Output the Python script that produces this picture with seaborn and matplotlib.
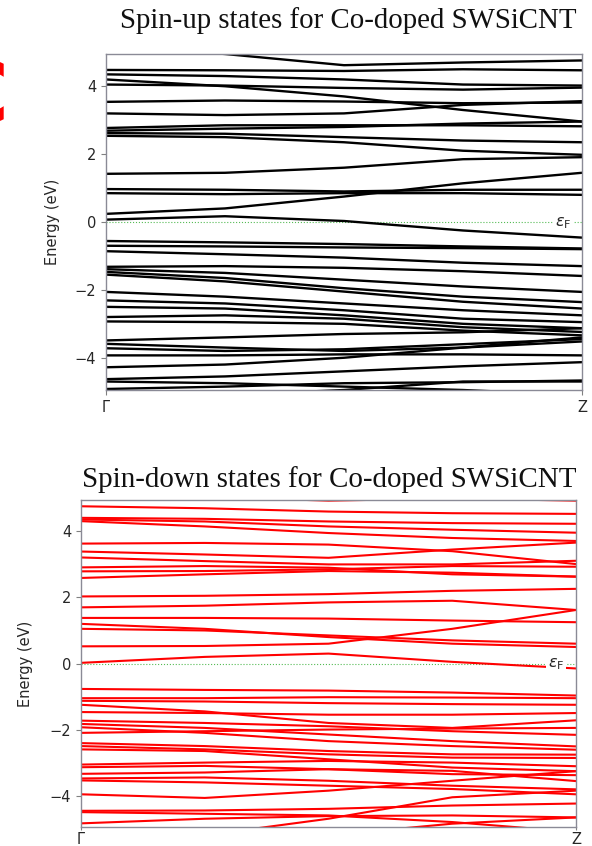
import numpy as np
import pandas as pd
import matplotlib
matplotlib.use("Agg")
import matplotlib.pyplot as plt
import seaborn as sns

# ---------------- data ----------------
k_points = [0.0, 0.25, 0.5, 0.75, 1.0]
k_labels = ["Γ", "Z"]
energy_ticks = [-4, -2, 0, 2, 4]
fermi_level = 0.0

spin_up_bands = [
    [5.20, 4.95, 4.62, 4.70, 4.76],
    [4.48, 4.47, 4.45, 4.50, 4.47],
    [4.35, 4.30, 4.20, 4.05, 4.02],
    [4.20, 4.00, 3.70, 3.30, 2.96],
    [4.05, 4.02, 3.95, 3.90, 3.96],
    [3.54, 3.58, 3.55, 3.50, 3.52],
    [3.20, 3.15, 3.20, 3.45, 3.56],
    [2.77, 2.85, 2.85, 2.85, 2.82],
    [2.69, 2.75, 2.80, 2.90, 2.96],
    [2.62, 2.60, 2.50, 2.40, 2.35],
    [2.54, 2.50, 2.35, 2.10, 1.98],
    [1.42, 1.45, 1.60, 1.85, 1.91],
    [0.97, 0.95, 0.90, 0.95, 0.95],
    [0.85, 0.82, 0.85, 0.85, 0.80],
    [0.24, 0.40, 0.75, 1.14, 1.45],
    [0.07, 0.17, 0.03, -0.25, -0.46],
    [-0.56, -0.60, -0.65, -0.72, -0.78],
    [-0.70, -0.72, -0.75, -0.77, -0.80],
    [-0.86, -0.95, -1.05, -1.20, -1.30],
    [-1.32, -1.30, -1.35, -1.45, -1.59],
    [-1.39, -1.50, -1.70, -1.90, -2.06],
    [-1.47, -1.65, -1.95, -2.20, -2.36],
    [-1.55, -1.75, -2.05, -2.35, -2.55],
    [-2.06, -2.20, -2.40, -2.60, -2.75],
    [-2.31, -2.40, -2.60, -2.85, -2.95],
    [-2.50, -2.55, -2.75, -3.00, -3.13],
    [-2.80, -2.75, -2.85, -3.10, -3.24],
    [-2.93, -2.95, -3.00, -3.20, -3.34],
    [-3.49, -3.40, -3.30, -3.25, -3.13],
    [-3.59, -3.70, -3.80, -3.70, -3.52],
    [-3.72, -3.80, -3.75, -3.60, -3.45],
    [-3.93, -3.93, -3.90, -3.90, -3.93],
    [-4.28, -4.20, -4.00, -3.70, -3.40],
    [-4.63, -4.55, -4.40, -4.25, -4.13],
    [-4.92, -4.85, -4.75, -4.72, -4.67],
    [-5.30, -5.10, -4.95, -4.70, -4.70],
    [-4.70, -4.75, -4.85, -4.95, -5.10],
]

spin_down_bands = [
    [5.30, 5.05, 4.93, 5.00, 4.93],
    [4.76, 4.70, 4.60, 4.55, 4.53],
    [4.41, 4.38, 4.30, 4.25, 4.23],
    [4.36, 4.30, 4.15, 4.05, 3.96],
    [4.31, 4.15, 3.95, 3.80, 3.71],
    [3.63, 3.65, 3.60, 3.40, 3.01],
    [3.39, 3.30, 3.20, 3.45, 3.66],
    [3.21, 3.10, 3.00, 3.00, 3.11],
    [2.91, 2.95, 2.90, 2.70, 2.63],
    [2.79, 2.80, 2.85, 2.95, 2.93],
    [2.59, 2.70, 2.80, 2.75, 2.63],
    [2.03, 2.05, 2.10, 2.20, 2.26],
    [1.70, 1.75, 1.85, 1.90, 1.62],
    [1.38, 1.38, 1.36, 1.30, 1.25],
    [1.20, 1.05, 0.80, 0.60, 0.50],
    [1.05, 1.00, 0.85, 0.70, 0.60],
    [0.52, 0.53, 0.60, 1.05, 1.62],
    [0.02, 0.20, 0.30, 0.05, -0.15],
    [-0.77, -0.80, -0.82, -0.88, -0.97],
    [-1.05, -1.05, -1.02, -1.03, -1.05],
    [-1.13, -1.15, -1.20, -1.23, -1.25],
    [-1.25, -1.45, -1.80, -1.95, -1.72],
    [-1.47, -1.50, -1.55, -1.55, -1.50],
    [-1.73, -1.80, -1.90, -2.05, -2.16],
    [-1.83, -1.95, -2.15, -2.35, -2.51],
    [-1.93, -2.10, -2.35, -2.50, -2.61],
    [-2.10, -2.05, -2.00, -1.97, -1.95],
    [-2.41, -2.50, -2.65, -2.75, -2.76],
    [-2.50, -2.60, -2.75, -2.85, -2.86],
    [-2.60, -2.65, -2.90, -3.15, -3.26],
    [-3.06, -3.00, -2.95, -3.00, -3.11],
    [-3.14, -3.10, -3.20, -3.35, -3.38],
    [-3.34, -3.30, -3.20, -3.25, -3.56],
    [-3.48, -3.45, -3.55, -3.70, -3.81],
    [-3.54, -3.60, -3.70, -3.80, -3.96],
    [-3.96, -4.07, -3.85, -3.55, -3.26],
    [-4.46, -4.45, -4.40, -4.30, -4.24],
    [-4.84, -4.70, -4.62, -4.60, -4.66],
    [-5.40, -5.20, -4.70, -4.05, -3.85],
    [-5.50, -5.40, -5.20, -4.85, -4.66],
    [-4.50, -4.55, -4.60, -4.80, -5.10],
]

titles = ["Spin-up states for Co-doped SWSiCNT",
          "Spin-down states for Co-doped SWSiCNT"]
colors = ["black", "#ff0000"]


def to_long(bands):
    rows = []
    for b, vals in enumerate(bands):
        for k, e in zip(k_points, vals):
            rows.append({"band": b, "k": k, "E": e})
    return pd.DataFrame(rows)


sns.set_style("white")
plt.rcParams["font.family"] = ["DejaVu Sans"]

fig = plt.figure(figsize=(5.92, 8.46), dpi=100)
W, H = 592, 846
boxes = [(106, 54, 582, 390), (81, 500, 576, 827)]
axes = []
for (l, t, r, b) in boxes:
    axes.append(fig.add_axes([l / W, 1 - b / H, (r - l) / W, (b - t) / H]))

for i, (ax, bands, col, lw) in enumerate(zip(axes, [spin_up_bands, spin_down_bands],
                                             colors, [1.7, 1.5])):
    df = to_long(bands)
    sns.lineplot(data=df, x="k", y="E", units="band", estimator=None,
                 color=col, lw=lw, ax=ax, legend=False, sort=False)
    ax.axhline(fermi_level, color="#55bb55", lw=0.8, ls=":", zorder=1)
    ax.text(0.96, fermi_level - 0.02, r"$\varepsilon_{\mathrm{F}}$", fontsize=11.5,
            ha="center", va="center", transform=ax.get_yaxis_transform(),
            bbox=dict(facecolor="white", edgecolor="none", pad=1.5), zorder=5)
    ax.set_xlim(0, 1)
    ax.set_ylim(-4.95, 4.95)
    ax.set_xticks([0, 1])
    ax.set_xticklabels(k_labels, fontsize=10.5)
    ax.set_yticks(energy_ticks)
    ax.set_yticklabels([f"{v}".replace("-", "\u2212") for v in energy_ticks], fontsize=10.5)
    ax.set_xlabel("")
    ax.set_ylabel("Energy (eV)", fontsize=10.5)
    ax.tick_params(axis="both", which="major", length=3.5, width=0.8,
                   color="#808080", direction="out", bottom=True, left=True)
    if i == 1:
        ax.tick_params(axis="x", length=2.5, pad=1)
    ax.yaxis.set_label_coords(-0.097, 0.5)
    for s in ax.spines.values():
        s.set_color("#8a8a96")
        s.set_linewidth(1.0)

fig.text(577 / W, 1 - 21 / H, titles[0], ha="right", va="center",
         family="Liberation Serif", fontsize=20.8, color="#111111")
fig.text(82 / W, 1 - 480 / H, titles[1], ha="left", va="center",
         family="Liberation Serif", fontsize=20.9, color="#111111")

# cropped red glyph fragment at the top-left edge of the reference image
fig.text(9 / W, 1 - 100 / H, "C", ha="right", va="center", color="#ff0000",
         fontsize=62, fontweight="bold")

fig.savefig("out.png", dpi=100)
